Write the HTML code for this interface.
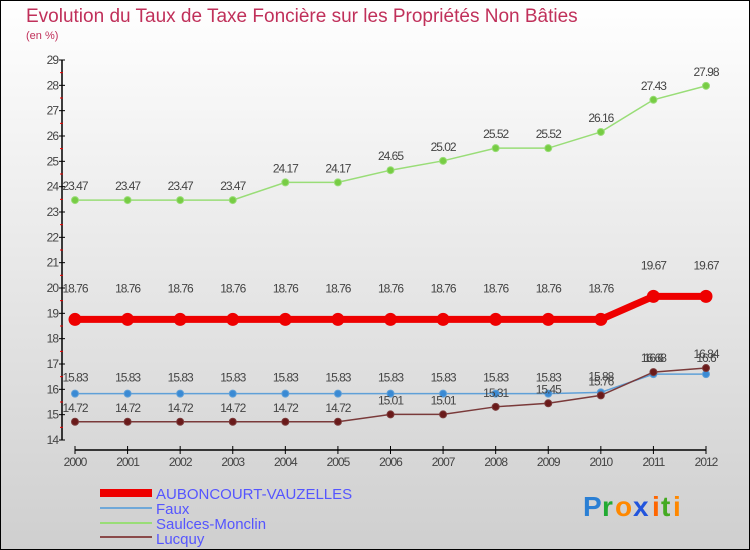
<!DOCTYPE html>
<html><head><meta charset="utf-8"><style>
body{margin:0;}
#c{width:750px;height:550px;position:relative;overflow:hidden;font-family:"Liberation Sans",sans-serif;}
</style></head><body>
<div id="c">
<svg width="750" height="550" xmlns="http://www.w3.org/2000/svg" id="svg">
<defs><linearGradient id="bg" x1="0" y1="0" x2="0" y2="1"><stop offset="0" stop-color="#ffffff"/><stop offset="1" stop-color="#cfcfcf"/></linearGradient></defs>
<rect x="0.5" y="0.5" width="749" height="549" fill="url(#bg)" stroke="#000"/>
<text x="26" y="22" font-size="19" fill="#c0305a">Evolution du Taux de Taxe Foncière sur les Propriétés Non Bâties</text>
<text x="26" y="39" font-size="11" fill="#c0305a">(en %)</text>
<g id="axes"></g><g id="series"></g>
<g>
<rect x="100" y="489" width="52" height="8" fill="#ee0000"/>
<text x="156" y="499" font-size="15" fill="#5555ff">AUBONCOURT-VAUZELLES</text>
<rect x="100" y="507" width="52" height="2" fill="#6fa8d8"/>
<text x="156" y="514" font-size="15" fill="#5555ff">Faux</text>
<rect x="100" y="522" width="52" height="2" fill="#99dd77"/>
<text x="156" y="529" font-size="15" fill="#5555ff">Saulces-Monclin</text>
<rect x="100" y="536" width="52" height="2" fill="#8a4a4a"/>
<text x="156" y="544" font-size="15" fill="#5555ff">Lucquy</text>
</g>
<g font-size="28" font-weight="bold">
<text x="583" y="516" fill="#2a7fd4">P</text><text x="602" y="516" fill="#22aa33">r</text><text x="615" y="516" fill="#ff8800">o</text><text x="633" y="516" fill="#2255dd">x</text><text x="652" y="516" fill="#ff6600">i</text><text x="661" y="516" fill="#44aa22">t</text><text x="673" y="516" fill="#ff8800">i</text>
</g>
</svg>
</div>
<script>
const years=[2000,2001,2002,2003,2004,2005,2006,2007,2008,2009,2010,2011,2012];
const yTicks=[14,15,16,17,18,19,20,21,22,23,24,25,26,27,28,29];
const auboncourt=[18.76,18.76,18.76,18.76,18.76,18.76,18.76,18.76,18.76,18.76,18.76,19.67,19.67];
const faux=[15.83,15.83,15.83,15.83,15.83,15.83,15.83,15.83,15.83,15.83,15.88,16.6,16.6];
const saulces=[23.47,23.47,23.47,23.47,24.17,24.17,24.65,25.02,25.52,25.52,26.16,27.43,27.98];
const lucquy=[14.72,14.72,14.72,14.72,14.72,14.72,15.01,15.01,15.31,15.45,15.76,16.68,16.84];
const NS="http://www.w3.org/2000/svg";
function X(i){return 75+i*(706-75)/(years.length-1);}
function Y(v){return 60+(29-v)*(440-60)/(29-14);}
function mk(t,a,p){const e=document.createElementNS(NS,t);for(const k in a)e.setAttribute(k,a[k]);p.appendChild(e);return e;}
const ax=document.getElementById('axes');
let yl=mk('line',{x1:62,y1:60,x2:62,y2:440,stroke:'#000','stroke-width':1.5},ax);


yTicks.forEach(v=>{
 mk('line',{x1:59,y1:Y(v),x2:65,y2:Y(v),stroke:'#000'},ax);
 if(v<29)mk('line',{x1:60,y1:Y(v+0.5),x2:63,y2:Y(v+0.5),stroke:'#ee0000'},ax);
 const t=mk('text',{x:58,y:Y(v)+4,'text-anchor':'end','font-size':12,fill:'#444','letter-spacing':'-1'},ax);t.textContent=v;
 
 
});
let xl=mk('line',{x1:75,y1:450,x2:706,y2:450,stroke:'#000','stroke-width':1.5},ax);


years.forEach((y,i)=>{
 mk('line',{x1:X(i),y1:446,x2:X(i),y2:454,stroke:'#000'},ax);
 const t=mk('text',{x:X(i),y:466,'text-anchor':'middle','font-size':12,fill:'#444','letter-spacing':'-1'},ax);t.textContent=y;
 
 
});
const sg=document.getElementById('series');
function series(name,data,color,w,r,dot,dy){
 const g=mk('g',{},sg);
 
 
 mk('polyline',{points:data.map((v,i)=>X(i)+','+Y(v)).join(' '),fill:'none',stroke:color,'stroke-width':w},g);
 data.forEach((v,i)=>{
  const c=mk('circle',{cx:X(i),cy:Y(v),r:r,fill:dot,stroke:color,'stroke-width':1},g);
  
  
  const t=mk('text',{x:X(i),y:Y(v)+dy,'text-anchor':'middle','font-size':12,fill:'#444','letter-spacing':'-1'},g);t.textContent=v.toFixed(2).replace(/0$/,'').replace(/\.$/,'');
  
  
 });
}
series('saulces',saulces,'#99dd77',1.5,3.5,'#77cc44',-10);
series('auboncourt',auboncourt,'#ee0000',7,6,'#ee0000',-27);
series('faux',faux,'#5fa0d8',1.5,3.5,'#3a8ad4',-12);
series('lucquy',lucquy,'#7a3a3a',1.5,3.5,'#6a1a1a',-10);
</script>
</body></html>
